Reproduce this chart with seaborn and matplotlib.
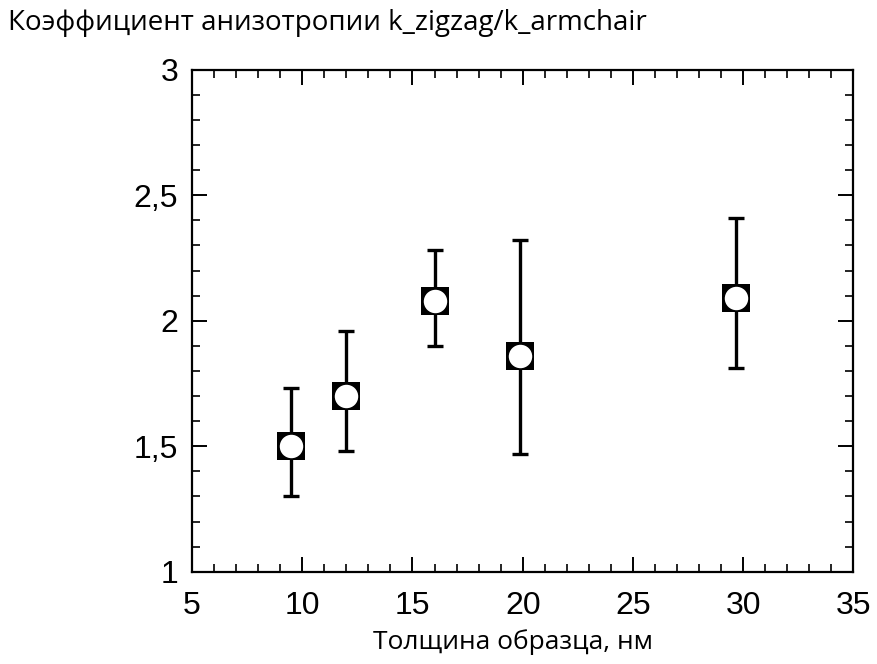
import numpy as np
import pandas as pd
import matplotlib
matplotlib.use("Agg")
import matplotlib.pyplot as plt
from matplotlib.ticker import MultipleLocator, FuncFormatter
import seaborn as sns

# Thickness (nm) and anisotropy ratio k_zigzag / k_armchair
thickness = [9.5, 12.0, 16.0, 19.9, 29.7]
ratio = [1.50, 1.70, 2.08, 1.86, 2.09]
err_low = [1.30, 1.48, 1.90, 1.47, 1.81]
err_high = [1.73, 1.96, 2.28, 2.32, 2.41]

title_text = "Коэффициент анизотропии k_zigzag/k_armchair"
xlabel_text = "Толщина образца, нм"

df = pd.DataFrame({"thickness": thickness, "ratio": ratio})

sns.set_style("white")
plt.rcParams["font.family"] = ["Open Sans", "DejaVu Sans"]

fig = plt.figure(figsize=(8.77, 6.64), dpi=100)
ax = fig.add_axes([0.219, 0.139, 0.754, 0.756])

yerr = np.array([np.array(ratio) - np.array(err_low),
                 np.array(err_high) - np.array(ratio)])
ax.errorbar(thickness, ratio, yerr=yerr, fmt="none", ecolor="black",
            elinewidth=2.4, capsize=6, capthick=2.4, zorder=2)

# black square with a white dot inside
sns.scatterplot(data=df, x="thickness", y="ratio", marker="s", s=380,
                color="black", edgecolor="black", linewidth=0, ax=ax, zorder=3)
sns.scatterplot(data=df, x="thickness", y="ratio", marker="o", s=285,
                color="white", edgecolor="white", linewidth=0, ax=ax, zorder=4)

ax.set_xlim(5, 35)
ax.set_ylim(1, 3)
ax.xaxis.set_major_locator(MultipleLocator(5))
ax.xaxis.set_minor_locator(MultipleLocator(1))
ax.yaxis.set_major_locator(MultipleLocator(0.5))
ax.yaxis.set_minor_locator(MultipleLocator(0.1))
ax.yaxis.set_major_formatter(FuncFormatter(lambda v, p: f"{v:g}".replace(".", ",")))

ax.tick_params(which="both", direction="in", top=True, right=True,
               bottom=True, left=True, color="black", labelcolor="black")
ax.tick_params(which="major", length=11, width=1.4, labelsize=23, pad=10)
ax.tick_params(axis="x", which="major", pad=14)
ax.tick_params(which="minor", length=6, width=1.2)
for lab in ax.get_xticklabels() + ax.get_yticklabels():
    lab.set_fontfamily(["Liberation Sans", "DejaVu Sans"])

for spine in ax.spines.values():
    spine.set_color("black")
    spine.set_linewidth(1.6)

ax.set_xlabel(xlabel_text, fontsize=19, color="black")
ax.xaxis.set_label_coords(0.486, -0.114)
ax.set_ylabel("")
fig.text(0.009, 0.965, title_text, fontsize=20, ha="left", va="center",
         color="black")

fig.savefig("out.png", dpi=100, facecolor="white")
plt.close(fig)
